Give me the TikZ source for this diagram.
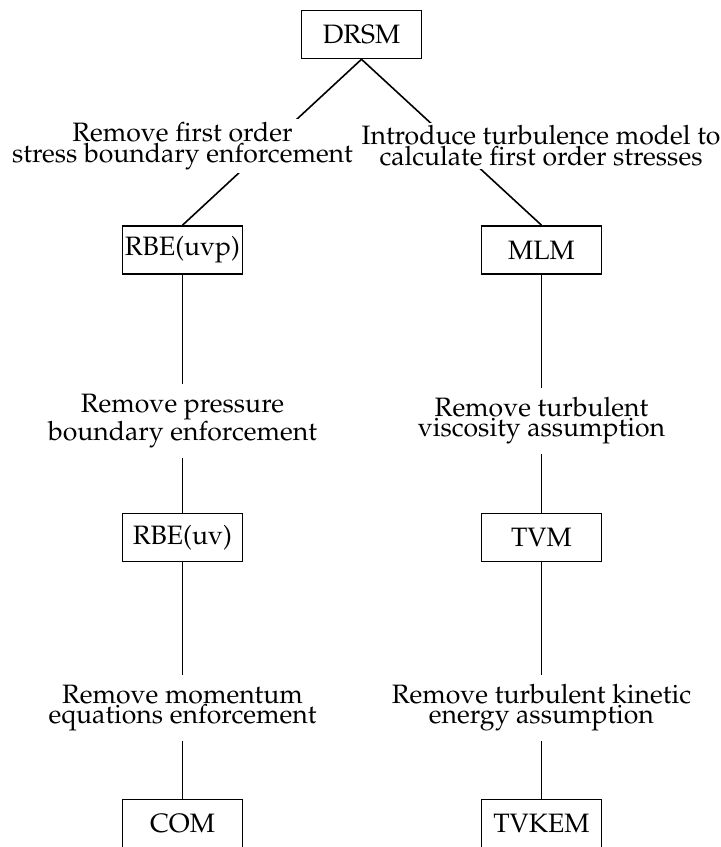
\documentclass[tikz,border=0pt]{standalone}
\usepackage[T1]{fontenc}
\usepackage{mathpazo}
\usepackage{tikz}
\tikzset{
    model-box/.style = {draw=black, fill=white, line width=1.6pt, rectangle, minimum width=120pt, minimum height=48pt, inner sep=0pt, font=\fontsize{26.6}{17.3}\selectfont},
    step-label/.style = {fill=white, align=center, inner xsep=2pt, inner ysep=3pt, font=\fontsize{26.6}{17.3}\selectfont},
    step-label-tall/.style = {step-label, inner ysep=10pt},
    tree-line/.style = {line width=1.6pt},
}

\begin{document}
\begin{tikzpicture}[x=1pt, y=1pt]
\useasboundingbox (0,0) rectangle (721,847);

\node [model-box] (drsm) at (361.5,812.5) {DRSM};
\node [model-box] (rbeuvp) at (182.5,597) {RBE(uvp)};
\node [model-box] (mlm) at (541.5,597) {MLM};
\node [model-box] (rbeuv) at (182.5,309.5) {RBE(uv)};
\node [model-box] (tvm) at (541.5,309.5) {TVM};
\node [model-box] (com) at (182.5,23.5) {COM};
\node [model-box] (tvkem) at (541.5,23.5) {TVKEM};

\draw [tree-line] (drsm.south) -- (rbeuvp.north);
\draw [tree-line] (drsm.south) -- (mlm.north);
\draw [tree-line] (rbeuvp.south) -- (rbeuv.north);
\draw [tree-line] (mlm.south) -- (tvm.north);
\draw [tree-line] (rbeuv.south) -- (com.north);
\draw [tree-line] (tvm.south) -- (tvkem.north);

\node [step-label] (remstress) at (182.5,701) {Remove first order\\stress boundary enforcement};
\node [step-label] (addturb) at (541,701) {Introduce turbulence model to\\calculate first order stresses};
\node [step-label-tall] (rempress) at (182.5,426) {Remove pressure\\boundary enforcement};
\node [step-label-tall] (remvisc) at (541.5,426) {Remove turbulent\\viscosity assumption};
\node [step-label-tall] (remmom) at (182.5,139) {Remove momentum\\equations enforcement};
\node [step-label-tall] (remtke) at (541.5,139) {Remove turbulent kinetic\\energy assumption};
\end{tikzpicture}
\end{document}
